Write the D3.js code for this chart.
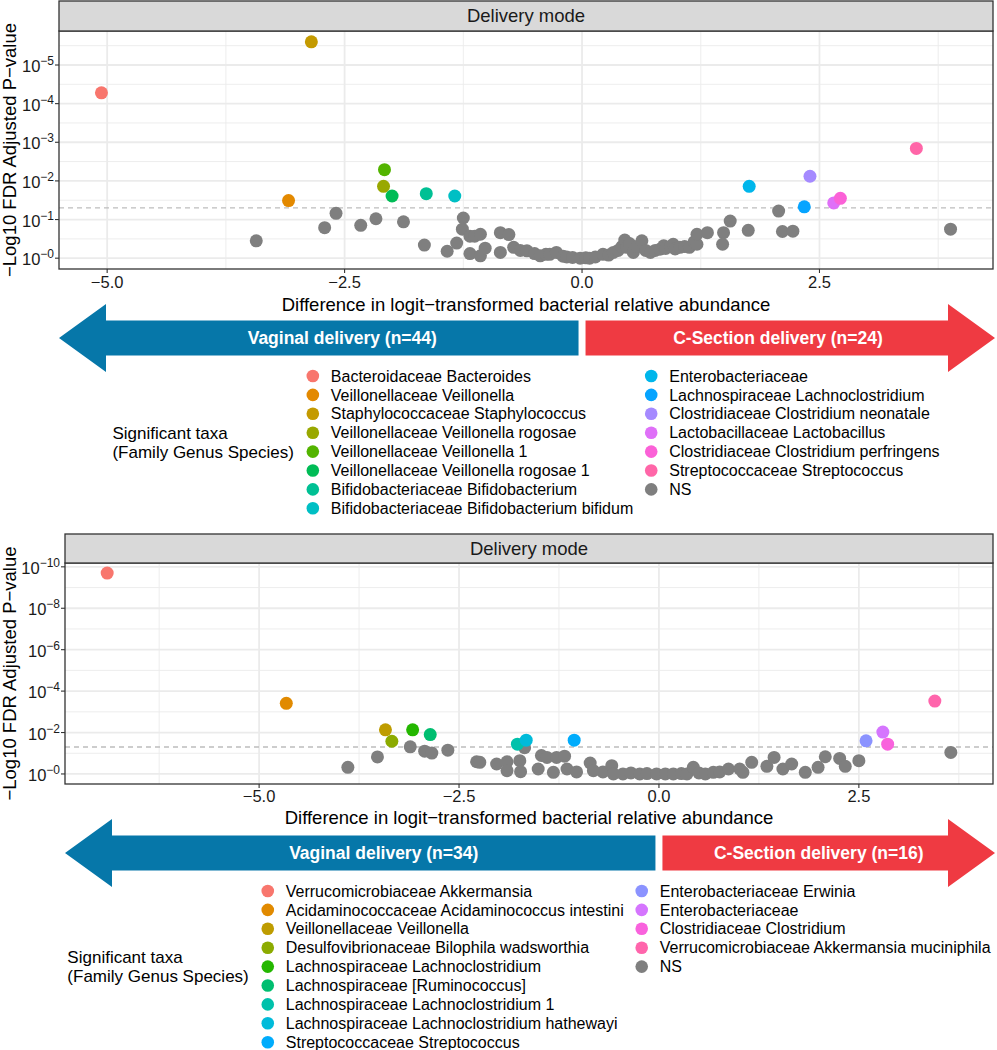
<!DOCTYPE html>
<html>
<head>
<meta charset="utf-8">
<script src="https://cdn.jsdelivr.net/npm/d3@7"></script>
<style>
  body { margin: 0; background: #fff; }
  svg { display: block; }
  text { font-family: "Liberation Sans", Arial, Helvetica, sans-serif; }
</style>
</head>
<body>
<svg id="chart" width="997" height="1050"></svg>
<script>
// ---- data: upper panel ----
const topTaxa = [
  "Bacteroidaceae Bacteroides", "Veillonellaceae Veillonella", "Staphylococcaceae Staphylococcus",
  "Veillonellaceae Veillonella rogosae", "Veillonellaceae Veillonella 1", "Veillonellaceae Veillonella rogosae 1",
  "Bifidobacteriaceae Bifidobacterium", "Bifidobacteriaceae Bifidobacterium bifidum", "Enterobacteriaceae",
  "Lachnospiraceae Lachnoclostridium", "Clostridiaceae Clostridium neonatale", "Lactobacillaceae Lactobacillus",
  "Clostridiaceae Clostridium perfringens", "Streptococcaceae Streptococcus"
];
const topTaxaDiff = [-5.06, -3.09, -2.85, -2.09, -2.08, -2.00, -1.64, -1.34, 1.76, 2.34, 2.40, 2.65, 2.72, 3.52];
const topTaxaLogP = [4.28, 1.49, 5.60, 1.86, 2.29, 1.61, 1.67, 1.61, 1.86, 1.33, 2.12, 1.43, 1.55, 2.84];
const topNs = [
  [-3.43, 0.45], [-2.71, 0.79], [-2.59, 1.16], [-2.33, 0.85], [-2.17, 1.02], [-1.88, 0.94],
  [-1.66, 0.34], [-1.42, 0.18], [-1.25, 1.04], [-1.26, 0.75], [-1.32, 0.39], [-1.18, 0.57],
  [-1.13, 0.57], [-1.18, 0.12], [-1.07, 0.06], [-1.02, 0.26], [-1.07, 0.62], [-0.86, 0.66],
  [-0.77, 0.61], [-0.86, 0.15], [-0.72, 0.28], [-0.65, 0.20], [-0.58, 0.19], [-0.50, 0.12],
  [-0.44, 0.06], [-0.38, 0.10], [-0.34, 0.10], [-0.27, 0.15], [-0.20, 0.05], [-0.16, 0.03],
  [-0.10, 0.02], [-0.02, 0.00], [0.04, 0.01], [0.08, 0.00], [0.14, 0.03], [0.22, 0.10],
  [0.28, 0.08], [0.33, 0.15], [0.38, 0.20], [0.42, 0.30], [0.45, 0.47], [0.47, 0.28],
  [0.50, 0.38], [0.54, 0.15], [0.58, 0.30], [0.63, 0.45], [0.67, 0.20], [0.72, 0.15],
  [0.77, 0.20], [0.82, 0.23], [0.86, 0.32], [0.88, 0.25], [0.93, 0.30], [0.96, 0.36],
  [0.98, 0.24], [1.03, 0.28], [1.08, 0.30], [1.13, 0.28], [1.18, 0.42], [1.21, 0.36],
  [1.21, 0.62], [1.32, 0.66], [1.49, 0.66], [1.48, 0.36], [1.56, 0.96], [1.75, 0.72],
  [2.07, 1.22], [2.11, 0.69], [2.22, 0.70], [3.88, 0.75]
];
const topGroups = ["Vaginal delivery (n=44)", "C-Section delivery (n=24)"];

// ---- data: lower panel ----
const bottomTaxa = [
  "Verrucomicrobiaceae Akkermansia", "Acidaminococcaceae Acidaminococcus intestini", "Veillonellaceae Veillonella",
  "Desulfovibrionaceae Bilophila wadsworthia", "Lachnospiraceae Lachnoclostridium", "Lachnospiraceae [Ruminococcus]",
  "Lachnospiraceae Lachnoclostridium 1", "Lachnospiraceae Lachnoclostridium hathewayi", "Streptococcaceae Streptococcus",
  "Enterobacteriaceae Erwinia", "Enterobacteriaceae", "Clostridiaceae Clostridium",
  "Verrucomicrobiaceae Akkermansia muciniphila"
];
const bottomTaxaDiff = [-6.90, -4.66, -3.42, -3.34, -3.08, -2.86, -1.77, -1.66, -1.06, 2.59, 2.80, 2.86, 3.45];
const bottomTaxaLogP = [9.70, 3.41, 2.13, 1.58, 2.13, 1.90, 1.44, 1.63, 1.63, 1.60, 2.02, 1.44, 3.52];
const bottomNs = [
  [-3.89, 0.32], [-3.52, 0.82], [-3.11, 1.31], [-2.93, 1.10], [-2.84, 1.01], [-2.64, 1.15],
  [-2.28, 0.59], [-2.24, 0.56], [-2.03, 0.48], [-1.90, 0.59], [-1.90, 0.16], [-1.74, 0.64],
  [-1.73, 0.11], [-1.68, 1.27], [-1.47, 0.89], [-1.40, 0.80], [-1.28, 0.80], [-1.18, 0.86],
  [-1.51, 0.24], [-1.32, 0.08], [-1.15, 0.24], [-1.03, 0.10], [-0.86, 0.53], [-0.82, 0.16],
  [-0.70, 0.10], [-0.59, 0.40], [-0.57, 0.00], [-0.45, 0.00], [-0.35, 0.05], [-0.24, 0.00],
  [-0.15, 0.02], [-0.03, 0.00], [0.08, 0.00], [0.18, 0.00], [0.28, 0.02], [0.35, 0.00],
  [0.43, 0.32], [0.50, 0.05], [0.58, 0.00], [0.68, 0.08], [0.76, 0.10], [0.87, 0.24],
  [1.01, 0.24], [1.05, 0.08], [1.16, 0.56], [1.35, 0.37], [1.44, 0.80], [1.55, 0.24],
  [1.66, 0.48], [1.83, 0.08], [1.99, 0.32], [2.08, 0.83], [2.26, 0.75], [2.33, 0.37],
  [2.50, 0.64], [3.65, 1.04]
];
const bottomGroups = ["Vaginal delivery (n=34)", "C-Section delivery (n=16)"];

// ---- shared ----
const xTicks = [-5, -2.5, 0, 2.5];
const topYTicks = [0, 1, 2, 3, 4, 5];
const bottomYTicks = [0, 2, 4, 6, 8, 10];
const fdrCutoff = 0.05;
const stripLabel = "Delivery mode";
const xTitle = "Difference in logit\u2212transformed bacterial relative abundance";
const yTitle = "\u2212Log10 FDR Adjusted P\u2212value";
const legendTitle = ["Significant taxa", "(Family Genus Species)"];
const nsLabel = "NS";

const nsColor = "#7F7F7F";
const arrowColors = ["#0677A9", "#EF3A42"];

// ggplot-style hue palette (polar LUV -> sRGB)
function hclLuv(h, c, l) {
  const hr = h * Math.PI / 180;
  const U = c * Math.cos(hr), V = c * Math.sin(hr);
  const Xn = 95.047, Yn = 100, Zn = 108.883;
  const den = Xn + 15 * Yn + 3 * Zn;
  const un = 4 * Xn / den, vn = 9 * Yn / den;
  const Y = Yn * (l > 8 ? Math.pow((l + 16) / 116, 3) : l / 903.3);
  const u = U / (13 * l) + un, v = V / (13 * l) + vn;
  const X = 9 * Y * u / (4 * v);
  const Z = -X / 3 - 5 * Y + 3 * Y / v;
  const x = X / 100, y = Y / 100, z = Z / 100;
  const lin = [
    3.240479 * x - 1.537150 * y - 0.498535 * z,
    -0.969256 * x + 1.875992 * y + 0.041556 * z,
    0.055648 * x - 0.204043 * y + 1.057311 * z
  ];
  const g = lin.map(t => {
    const s = t <= 0.0031308 ? 12.92 * t : 1.055 * Math.pow(t, 1 / 2.4) - 0.055;
    return Math.round(Math.max(0, Math.min(1, s)) * 255);
  });
  return d3.rgb(g[0], g[1], g[2]).formatHex();
}
function huePalette(n) {
  return d3.range(n).map(i => hclLuv((15 + i * 360 / n) % 360, 100, 65));
}

const panels = [
  {
    taxa: topTaxa, diff: topTaxaDiff, logp: topTaxaLogP, ns: topNs, yTicks: topYTicks, groups: topGroups,
    left: 59, right: 993, stripTop: 1, top: 31, bottom: 269,
    tickLabelY: 288, xTitleY: 311, arrowY: 338, legendTop: 376, legendRows: 8
  },
  {
    taxa: bottomTaxa, diff: bottomTaxaDiff, logp: bottomTaxaLogP, ns: bottomNs, yTicks: bottomYTicks, groups: bottomGroups,
    left: 65, right: 993, stripTop: 534, top: 563, bottom: 784,
    tickLabelY: 802, xTitleY: 824, arrowY: 853, legendTop: 891, legendRows: 9
  }
];

const svg = d3.select("#chart");
svg.append("rect").attr("width", 997).attr("height", 1050).attr("fill", "#fff");

function expand(e) {
  const r = e[1] - e[0];
  return [e[0] - r * 0.05, e[1] + r * 0.05];
}
function minorOf(major, domain) {
  const step = major[1] - major[0];
  const out = [];
  for (let v = major[0] - step * 2.5; v <= domain[1]; v += step) if (v >= domain[0]) out.push(v);
  return out;
}

panels.forEach(p => {
  const pts = p.ns.concat(p.diff.map((d, i) => [d, p.logp[i]]));
  const x = d3.scaleLinear().domain(expand(d3.extent(pts, d => d[0]))).range([p.left, p.right]);
  const y = d3.scaleLinear().domain(expand(d3.extent(pts, d => d[1]))).range([p.bottom, p.top]);
  const colors = huePalette(p.taxa.length);
  const g = svg.append("g");

  // grid
  const grid = g.append("g");
  grid.selectAll(".xmin").data(minorOf(xTicks, x.domain())).join("line")
    .attr("x1", d => x(d)).attr("x2", d => x(d)).attr("y1", p.top).attr("y2", p.bottom)
    .attr("stroke", "#EBEBEB").attr("stroke-width", 0.9);
  grid.selectAll(".ymin").data(minorOf(p.yTicks, y.domain())).join("line")
    .attr("y1", d => y(d)).attr("y2", d => y(d)).attr("x1", p.left).attr("x2", p.right)
    .attr("stroke", "#EBEBEB").attr("stroke-width", 0.9);
  grid.selectAll(".xmaj").data(xTicks).join("line")
    .attr("x1", d => x(d)).attr("x2", d => x(d)).attr("y1", p.top).attr("y2", p.bottom)
    .attr("stroke", "#EBEBEB").attr("stroke-width", 1.8);
  grid.selectAll(".ymaj").data(p.yTicks).join("line")
    .attr("y1", d => y(d)).attr("y2", d => y(d)).attr("x1", p.left).attr("x2", p.right)
    .attr("stroke", "#EBEBEB").attr("stroke-width", 1.8);

  // significance cutoff
  g.append("line")
    .attr("x1", p.left).attr("x2", p.right)
    .attr("y1", y(-Math.log10(fdrCutoff))).attr("y2", y(-Math.log10(fdrCutoff)))
    .attr("stroke", "#BDBDBD").attr("stroke-width", 1.4).attr("stroke-dasharray", "5,4");

  // points
  g.append("g").selectAll("circle").data(p.ns).join("circle")
    .attr("cx", d => x(d[0])).attr("cy", d => y(d[1])).attr("r", 6.5).attr("fill", nsColor);
  g.append("g").selectAll("circle").data(p.diff.map((d, i) => ({ d, v: p.logp[i], c: colors[i] }))).join("circle")
    .attr("cx", d => x(d.d)).attr("cy", d => y(d.v)).attr("r", 6.5).attr("fill", d => d.c);

  // panel border + strip
  g.append("rect").attr("x", p.left).attr("y", p.top).attr("width", p.right - p.left).attr("height", p.bottom - p.top)
    .attr("fill", "none").attr("stroke", "#333").attr("stroke-width", 1.3);
  g.append("rect").attr("x", p.left).attr("y", p.stripTop).attr("width", p.right - p.left).attr("height", p.top - p.stripTop)
    .attr("fill", "#D9D9D9").attr("stroke", "#333").attr("stroke-width", 1.3);
  g.append("text").attr("x", (p.left + p.right) / 2).attr("y", (p.stripTop + p.top) / 2).attr("dy", "0.35em")
    .attr("text-anchor", "middle").attr("font-size", 18.5).attr("fill", "#1a1a1a").text(stripLabel);

  // x axis
  g.append("g").selectAll("line").data(xTicks).join("line")
    .attr("x1", d => x(d)).attr("x2", d => x(d)).attr("y1", p.bottom).attr("y2", p.bottom + 4)
    .attr("stroke", "#333").attr("stroke-width", 1.1);
  g.append("g").selectAll("text").data(xTicks).join("text")
    .attr("x", d => x(d)).attr("y", p.tickLabelY).attr("text-anchor", "middle")
    .attr("font-size", 16.5).attr("fill", "#1a1a1a").text(d3.format(".1f"));
  g.append("text").attr("x", (p.left + p.right) / 2).attr("y", p.xTitleY).attr("text-anchor", "middle")
    .attr("font-size", 18.5).attr("fill", "#000").text(xTitle);

  // y axis
  g.append("g").selectAll("line").data(p.yTicks).join("line")
    .attr("x1", p.left - 4).attr("x2", p.left).attr("y1", d => y(d)).attr("y2", d => y(d))
    .attr("stroke", "#333").attr("stroke-width", 1.1);
  const yl = g.append("g").selectAll("text").data(p.yTicks).join("text")
    .attr("x", p.left - 5).attr("y", d => y(d) + 7).attr("text-anchor", "end")
    .attr("font-size", 16.5).attr("fill", "#1a1a1a");
  yl.append("tspan").text("10");
  yl.append("tspan").attr("dy", -7).attr("font-size", 12).text(d => "\u2212" + d);
  g.append("text")
    .attr("transform", `translate(10,${(p.top + p.bottom) / 2}) rotate(-90)`)
    .attr("dy", "0.35em").attr("text-anchor", "middle").attr("font-size", 18.5).attr("fill", "#000")
    .text(yTitle);

  // direction arrows split at zero
  const x0 = x(0), cy = p.arrowY, hh = 34, sh = 17.5, headLen = 47;
  const lTip = p.left, lBack = lTip + headLen, lEnd = x0 - 3.5;
  const rTip = 995, rBack = rTip - headLen, rStart = x0 + 3.5;
  const arrows = [
    [[lTip, cy], [lBack, cy - hh], [lBack, cy - sh], [lEnd, cy - sh], [lEnd, cy + sh], [lBack, cy + sh], [lBack, cy + hh]],
    [[rTip, cy], [rBack, cy - hh], [rBack, cy - sh], [rStart, cy - sh], [rStart, cy + sh], [rBack, cy + sh], [rBack, cy + hh]]
  ];
  g.append("g").selectAll("polygon").data(arrows).join("polygon")
    .attr("points", d => d.map(q => q.join(",")).join(" "))
    .attr("fill", (d, i) => arrowColors[i]);
  const labelX = [(lBack + lEnd) / 2, rStart + 0.47 * (rTip - rStart)];
  g.append("g").selectAll("text").data(p.groups).join("text")
    .attr("x", (d, i) => labelX[i]).attr("y", cy).attr("dy", "0.35em").attr("text-anchor", "middle")
    .attr("font-size", 17.5).attr("font-weight", "bold").attr("fill", "#fff").text(d => d);

  // legend
  const labels = p.taxa.concat([nsLabel]);
  const fills = colors.concat([nsColor]);
  const rowH = 18.9, rowsMid = (p.legendRows - 1) / 2;
  const lg = g.append("g");
  const tg = lg.append("g");
  legendTitle.forEach((t, i) => {
    tg.append("text").attr("x", 0).attr("y", (i - (legendTitle.length - 1) / 2) * rowH).attr("dy", "0.35em")
      .attr("font-size", 17).attr("fill", "#000").text(t);
  });
  let xc = tg.node().getBBox().width + 19;
  const nCols = Math.ceil(labels.length / p.legendRows);
  for (let c = 0; c < nCols; c++) {
    const cg = lg.append("g").attr("transform", `translate(${xc},0)`);
    const idx = d3.range(c * p.legendRows, Math.min(labels.length, (c + 1) * p.legendRows));
    let w = 0;
    idx.forEach((k, r) => {
      const yy = (r - rowsMid) * rowH;
      cg.append("circle").attr("cx", 0).attr("cy", yy).attr("r", 6.3).attr("fill", fills[k]);
      const t = cg.append("text").attr("x", 18).attr("y", yy).attr("dy", "0.35em")
        .attr("font-size", 16).attr("fill", "#000").text(labels[k]);
      w = Math.max(w, t.node().getComputedTextLength());
    });
    xc += 18 + w + 18;
  }
  const bb = lg.node().getBBox();
  lg.attr("transform", `translate(${(p.left + p.right) / 2 - bb.x - bb.width / 2},${p.legendTop + rowsMid * rowH})`);
});
</script>
</body>
</html>
